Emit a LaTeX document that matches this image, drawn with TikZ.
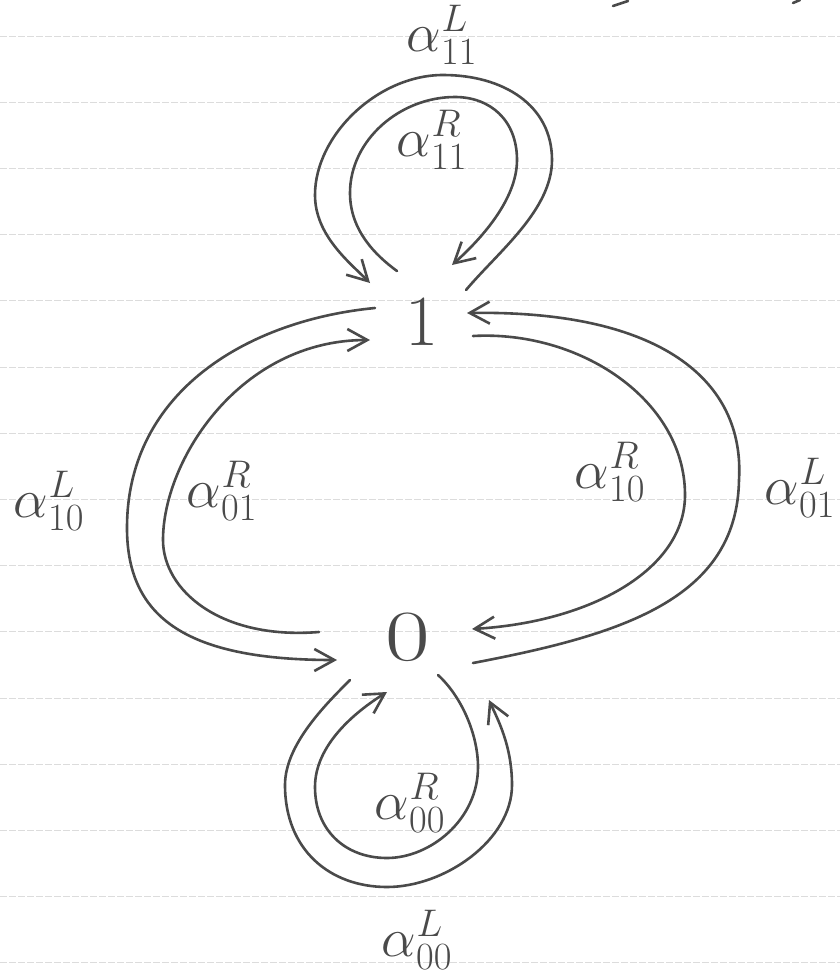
\RequirePackage{fix-cm}
\documentclass[tikz,border=0pt]{standalone}
\usetikzlibrary{calc,arrows.meta}
\definecolor{penc}{HTML}{4A4A4A}
\definecolor{rulec}{HTML}{DCDCDC}
\begin{document}
\begin{tikzpicture}[x=1pt,y=-1pt,
  pen/.style={draw=penc,line width=2.6pt,line cap=round,line join=round},
  arr/.style={pen,-{Straight Barb[length=20pt,width=22pt]}},
  lbl/.style={text=penc,inner sep=0pt,font=\fontsize{55}{62}\selectfont},
  statenode/.style={text=penc,inner sep=0pt,font=\fontsize{72}{80}\selectfont},
  ruled/.style={draw=rulec,line width=0.9pt,dash pattern=on 7pt off 2pt}]
\fill[white] (0,0) rectangle (840,980);
\useasboundingbox (0,0) rectangle (840,980);
\foreach \k in {0,...,14} \draw[ruled] (0,36+66.2*\k) -- (840,36+66.2*\k);
% stray pen marks at the top edge
\draw[pen] (613,6) -- (628,1);
\draw[pen] (793,3) -- (800,0);
% states
\node[statenode] (n1) at (422,322) {1};
\node[statenode] (n0) at (408,637) {\scalebox{1.35}[1]{0}};
% labels
\node[lbl] (l11L) at (442,35) {$\alpha^{L}_{11}$};
\node[lbl] (l11R) at (432,140) {$\alpha^{R}_{11}$};
\node[lbl] (l10L) at (49,501) {$\alpha^{L}_{10}$};
\node[lbl] (l01R) at (222,491) {$\alpha^{R}_{01}$};
\node[lbl] (l10R) at (610,472) {$\alpha^{R}_{10}$};
\node[lbl] (l01L) at (800,488) {$\alpha^{L}_{01}$};
\node[lbl] (l00R) at (410,803) {$\alpha^{R}_{00}$};
\node[lbl] (l00L) at (417,940) {$\alpha^{L}_{00}$};
% top loops on 1
\draw[arr] ($(n1)+(44,-32)$) .. controls (498,252) and (552,210) .. (552,160)
  .. controls (552,105) and (503,75) .. (443,75)
  .. controls (378,75) and (315,135) .. (315,195)
  .. controls (315,235) and (349,262) .. ($(n1)+(-52,-39)$);
\draw[arr] ($(n1)+(-25,-51)$) .. controls (375,255) and (350,230) .. (350,193)
  .. controls (350,140) and (400,97) .. (455,97)
  .. controls (490,97) and (517,120) .. (517,160)
  .. controls (517,200) and (480,240) .. ($(n1)+(30,-57)$);
% left arcs
\draw[arr] ($(n1)+(-47,-14)$) .. controls (250,320) and (127,390) .. (127,528)
  .. controls (127,620) and (190,660) .. ($(n0)+(-71,23)$);
\draw[arr] ($(n0)+(-89,-5)$) .. controls (220,640) and (163,590) .. (163,540)
  .. controls (163,460) and (240,340) .. ($(n1)+(-52,18)$);
% right arcs
\draw[arr] ($(n0)+(65,26)$) .. controls (620,635) and (737,600) .. (739,480)
  .. controls (745,380) and (660,310) .. ($(n1)+(45,-9)$);
\draw[arr] ($(n1)+(51,14)$) .. controls (580,330) and (685,400) .. (685,495)
  .. controls (685,570) and (590,622) .. ($(n0)+(64,-8)$);
% bottom loops on 0
\draw[arr] ($(n0)+(-58,43)$) .. controls (325,705) and (285,745) .. (285,785)
  .. controls (285,850) and (330,887) .. (387,887)
  .. controls (445,887) and (512,840) .. (512,785)
  .. controls (512,745) and (497,718) .. ($(n0)+(81,63)$);
\draw[arr] ($(n0)+(30,38)$) .. controls (462,697) and (478,735) .. (478,767)
  .. controls (478,820) and (430,858) .. (387,858)
  .. controls (345,858) and (315,830) .. (315,787)
  .. controls (315,745) and (355,712) .. ($(n0)+(-21,55)$);
\end{tikzpicture}
\end{document}
